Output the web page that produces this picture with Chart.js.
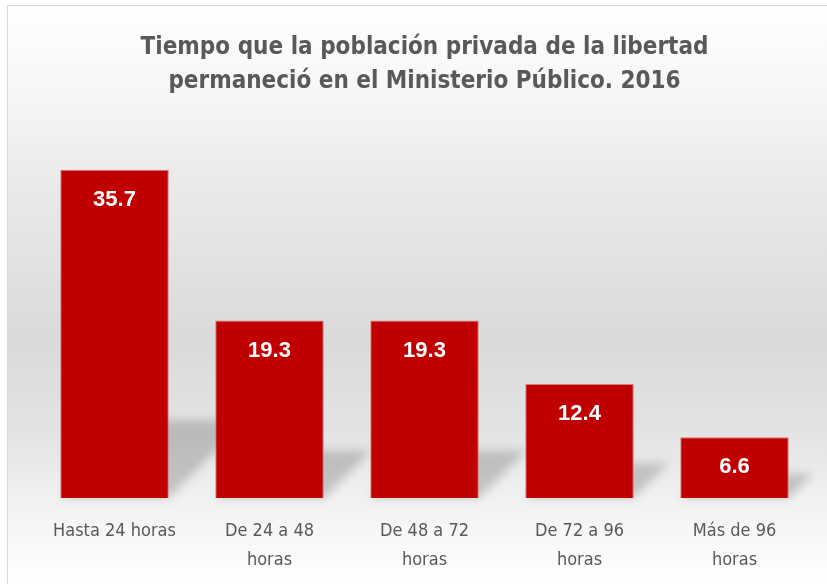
<!DOCTYPE html>
<html>
<head>
<meta charset="utf-8">
<script src="https://cdn.jsdelivr.net/npm/chart.js@4"></script>
<style>
  body { margin: 0; background: #fff; }
  #wrap { width: 827px; height: 584px; }
</style>
</head>
<body>
<div id="wrap"><canvas id="tiempoChart" width="827" height="584"></canvas></div>
<script>
// Tiempo en el Ministerio Público - bar chart

const categorias = [
    'Hasta 24 horas',
    ['De 24 a 48', 'horas'],
    ['De 48 a 72', 'horas'],
    ['De 72 a 96', 'horas'],
    ['Más de 96', 'horas']
];
const porcentajes = [35.7, 19.3, 19.3, 12.4, 6.6];
const tituloLineas = [
    'Tiempo que la población privada de la libertad',
    'permaneció en el Ministerio Público. 2016'
];

const gris = '#595959';
const fuenteCondensada = '"Liberation Sans Narrow", "DejaVu Sans Condensed", sans-serif';

/**
 * Background gradient and frame line
 */
const fondoPlugin = {
    id: 'fondo',
    beforeDraw(chart) {
        const ctx = chart.ctx;
        const h = chart.height;
        ctx.save();
        const g = ctx.createLinearGradient(0, 0, 0, h);
        g.addColorStop(0, '#ffffff');
        g.addColorStop(0.17, '#f6f6f6');
        g.addColorStop(0.3, '#ebebeb');
        g.addColorStop(0.58, '#dadada');
        g.addColorStop(0.75, '#e4e4e4');
        g.addColorStop(0.87, '#f3f3f3');
        g.addColorStop(1, '#ffffff');
        ctx.fillStyle = g;
        ctx.fillRect(7, 5, chart.width, h);
        ctx.strokeStyle = '#d9d9d9';
        ctx.lineWidth = 1;
        ctx.beginPath();
        ctx.moveTo(7.5, h);
        ctx.lineTo(7.5, 5.5);
        ctx.lineTo(chart.width, 5.5);
        ctx.stroke();
        ctx.restore();
    }
};

/**
 * Perspective shadow behind every bar
 */
const sombraPlugin = {
    id: 'sombra',
    beforeDatasetsDraw(chart) {
        const ctx = chart.ctx;
        const meta = chart.getDatasetMeta(0);
        ctx.save();
        ctx.filter = 'blur(5px)';
        ctx.fillStyle = 'rgba(0, 0, 0, 0.18)';
        meta.data.forEach(bar => {
            const p = bar.getProps(['x', 'y', 'base', 'width'], true);
            const h = p.base - p.y;
            const hs = 0.2 * h + 12;
            const xl = p.x - p.width / 2;
            const xr = p.x + p.width / 2;
            ctx.beginPath();
            ctx.moveTo(xl, p.base);
            ctx.lineTo(xr, p.base);
            ctx.lineTo(xr + hs, p.base - hs);
            ctx.lineTo(xl + hs, p.base - hs);
            ctx.closePath();
            ctx.fill();
        });
        ctx.restore();
    }
};

/**
 * White value labels inside the bars
 */
const etiquetasPlugin = {
    id: 'etiquetas',
    afterDatasetsDraw(chart) {
        const ctx = chart.ctx;
        const meta = chart.getDatasetMeta(0);
        ctx.save();
        ctx.fillStyle = '#ffffff';
        ctx.font = 'bold 22px "Liberation Sans", Arial, sans-serif';
        ctx.textAlign = 'center';
        ctx.textBaseline = 'middle';
        meta.data.forEach((bar, i) => {
            ctx.fillText(porcentajes[i].toFixed(1), bar.x, bar.y + 30);
        });
        ctx.restore();
    }
};

new Chart(document.getElementById('tiempoChart'), {
    type: 'bar',
    data: {
        labels: categorias,
        datasets: [{
            data: porcentajes,
            backgroundColor: '#c00000',
            borderColor: '#d77a7a',
            borderWidth: 1,
            categoryPercentage: 1,
            barPercentage: 0.7
        }]
    },
    options: {
        responsive: false,
        animation: false,
        layout: { padding: { left: 37, right: 15, top: 0, bottom: 10 } },
        plugins: {
            legend: { display: false },
            tooltip: { enabled: false },
            title: {
                display: true,
                text: tituloLineas,
                color: gris,
                font: { family: fuenteCondensada, size: 24, weight: 'bold', lineHeight: 1.4 },
                padding: { top: 31, bottom: 32 }
            }
        },
        scales: {
            x: {
                grid: { display: false, drawTicks: false },
                border: { display: false },
                afterFit(scale) { scale.height = 76; },
                ticks: {
                    color: gris,
                    padding: 19,
                    maxRotation: 0,
                    font: { family: fuenteCondensada, size: 18, lineHeight: 1.6 }
                }
            },
            y: {
                display: false,
                min: 0,
                max: 40
            }
        }
    },
    plugins: [fondoPlugin, sombraPlugin, etiquetasPlugin]
});
</script>
</body>
</html>
